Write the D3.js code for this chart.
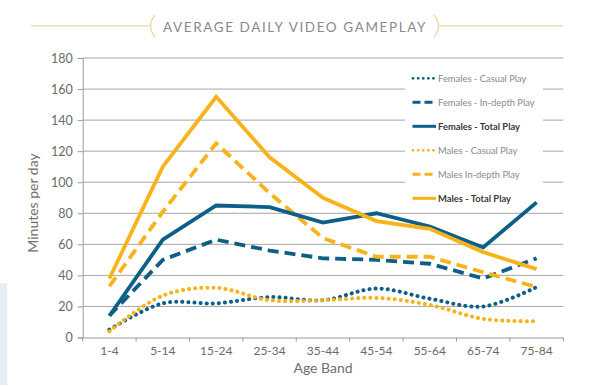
<!DOCTYPE html>
<html>
<head>
<meta charset="utf-8">
<script src="https://cdn.jsdelivr.net/npm/d3@7"></script>
<style>
  body { margin: 0; background: #fff; }
  svg { display: block; font-family: Lato, "Noto Sans", sans-serif; }
</style>
</head>
<body>
<div id="chart"></div>
<script>
// Age bands and minutes per day
const ageBands = ['1-4', '5-14', '15-24', '25-34', '35-44', '45-54', '55-64', '65-74', '75-84'];
const femalesCasual = [5, 22, 22, 26, 24, 31.5, 25, 20, 32.5];
const femalesInDepth = [14, 50, 63, 56, 51, 50, 47.5, 38, 51];
const femalesTotal = [14, 63, 85, 84, 74, 80, 71.5, 58, 87];
const malesCasual = [4, 27, 32, 24, 24, 25.5, 21, 12, 10.5];
const malesInDepth = [33, 81, 125, 93, 64, 52, 52, 42, 32.5];
const malesTotal = [38, 110, 155, 116, 90, 75, 70, 55, 44];
const yTicks = [0, 20, 40, 60, 80, 100, 120, 140, 160, 180];

const BLUE = '#0d5f87';
const GOLD = '#f8b31a';

const series = [
    { name: 'Females - Casual Play', values: femalesCasual, color: BLUE, style: 'dot', bold: false },
    { name: 'Females - In-depth Play', values: femalesInDepth, color: BLUE, style: 'dash', bold: false },
    { name: 'Females - Total Play', values: femalesTotal, color: BLUE, style: 'solid', bold: true },
    { name: 'Males - Casual Play', values: malesCasual, color: GOLD, style: 'dot', bold: false },
    { name: 'Males In-depth Play', values: malesInDepth, color: GOLD, style: 'dash', bold: false },
    { name: 'Males - Total Play', values: malesTotal, color: GOLD, style: 'solid', bold: true }
];

const W = 600, H = 387;
const PL = 82.7, PR = 563.3, PT = 58, PB = 337.5;

const svg = d3.select('#chart').append('svg')
    .attr('width', W)
    .attr('height', H);

// faint side strip
svg.append('rect')
    .attr('x', 0).attr('y', 283).attr('width', 7).attr('height', 102)
    .attr('fill', '#e3eef7');

// Title with bracket decoration
svg.append('line').attr('x1', 31).attr('x2', 150).attr('y1', 25.7).attr('y2', 25.7)
    .attr('stroke', '#ebe3a8').attr('stroke-width', 1.5);
svg.append('line').attr('x1', 438).attr('x2', 563).attr('y1', 25.7).attr('y2', 25.7)
    .attr('stroke', '#ebe3a8').attr('stroke-width', 1.5);
svg.append('path').attr('d', 'M155,15 Q146,26 155,37')
    .attr('fill', 'none').attr('stroke', '#e8d8a6').attr('stroke-width', 1.3);
svg.append('path').attr('d', 'M434,15 Q443,26 434,37')
    .attr('fill', 'none').attr('stroke', '#e8d8a6').attr('stroke-width', 1.3);
svg.append('text')
    .attr('x', 295).attr('y', 31.5)
    .attr('text-anchor', 'middle')
    .attr('font-size', '13.5px')
    .attr('letter-spacing', '1.6px')
    .attr('fill', '#8a8a8a')
    .text('AVERAGE DAILY VIDEO GAMEPLAY');

const x = d3.scaleBand().domain(ageBands).range([PL, PR]);
const y = d3.scaleLinear().domain([0, 180]).range([PB, PT]);

// Gridlines
svg.append('g')
    .selectAll('line')
    .data(yTicks.filter(d => d > 0))
    .join('line')
    .attr('x1', PL).attr('x2', PR)
    .attr('y1', d => y(d)).attr('y2', d => y(d))
    .attr('stroke', '#a6a6a6').attr('stroke-width', 1);

// Y axis
const yAxis = svg.append('g')
    .attr('transform', `translate(${PL},0)`)
    .call(d3.axisLeft(y).tickValues(yTicks).tickSize(5).tickPadding(5));
yAxis.select('.domain').attr('stroke', '#9a9a9a');
yAxis.selectAll('.tick line').attr('stroke', '#9a9a9a');
yAxis.selectAll('text').attr('fill', '#6a6a6a').attr('font-size', '12.5px')
    .attr('font-family', 'Lato, "Noto Sans", sans-serif');

// X axis
const xAxis = svg.append('g')
    .attr('transform', `translate(0,${PB})`)
    .call(d3.axisBottom(x).tickSize(0).tickPadding(9));
xAxis.select('.domain').attr('stroke', '#9a9a9a');
xAxis.selectAll('text').attr('fill', '#6a6a6a').attr('font-size', '12px')
    .attr('font-family', 'Lato, "Noto Sans", sans-serif');
// boundary ticks between bands
svg.append('g')
    .selectAll('line')
    .data(ageBands.concat(['end']))
    .join('line')
    .attr('x1', (d, i) => PL + i * x.bandwidth())
    .attr('x2', (d, i) => PL + i * x.bandwidth())
    .attr('y1', PB).attr('y2', PB + 4)
    .attr('stroke', '#9a9a9a');

// Axis titles
svg.append('text')
    .attr('transform', 'translate(38,203) rotate(-90)')
    .attr('text-anchor', 'middle')
    .attr('font-size', '14px')
    .attr('fill', '#6f6f6f')
    .text('Minutes per day');
svg.append('text')
    .attr('x', (PL + PR) / 2).attr('y', 373)
    .attr('text-anchor', 'middle')
    .attr('font-size', '14px')
    .attr('fill', '#6f6f6f')
    .text('Age Band');

// Legend background sits under the lines (the 75-84 female line crosses its corner)
svg.append('rect')
    .attr('x', 405).attr('y', 67).attr('width', 138).attr('height', 141)
    .attr('fill', '#fff');

const dashFor = s => s === 'dot' ? '0.1 6' : s === 'dash' ? '11 6' : null;

const lineStraight = d3.line()
    .x((d, i) => x(ageBands[i]) + x.bandwidth() / 2)
    .y(d => y(d));
const lineSmooth = d3.line()
    .curve(d3.curveCatmullRom.alpha(0.5))
    .x((d, i) => x(ageBands[i]) + x.bandwidth() / 2)
    .y(d => y(d));

// Draw order: casual, in-depth, total (gold on top of blue as in reference)
const order = [0, 3, 1, 4, 2, 5];
svg.append('g')
    .selectAll('path')
    .data(order.map(i => series[i]))
    .join('path')
    .attr('d', d => d.style === 'dot' ? lineSmooth(d.values) : lineStraight(d.values))
    .attr('fill', 'none')
    .attr('stroke', d => d.color)
    .attr('stroke-width', d => d.style === 'dot' ? 4 : 3.8)
    .attr('stroke-linecap', d => d.style === 'dot' ? 'round' : 'butt')
    .attr('stroke-linejoin', 'miter')
    .attr('stroke-dasharray', d => dashFor(d.style));

// Legend entries
const item = svg.append('g').selectAll('g.item')
    .data(series)
    .join('g')
    .attr('class', 'item')
    .attr('transform', (d, i) => `translate(0,${78.3 + i * 24})`);
item.append('line')
    .attr('x1', d => d.style === 'dot' ? 413 : 412.5)
    .attr('x2', 436)
    .attr('y1', 0).attr('y2', 0)
    .attr('stroke', d => d.color)
    .attr('stroke-width', d => d.style === 'dot' ? 2.8 : 3)
    .attr('stroke-linecap', d => d.style === 'dot' ? 'round' : 'butt')
    .attr('stroke-dasharray', d => d.style === 'dot' ? '0.1 5' : d.style === 'dash' ? '8 4' : null);
item.append('text')
    .attr('x', 438).attr('y', 3.3)
    .attr('font-size', '9.4px')
    .attr('font-weight', d => d.bold ? 'bold' : 'normal')
    .attr('fill', d => d.bold ? '#3a3a3a' : '#8a8a8a')
    .text(d => d.name);
</script>
</body>
</html>
